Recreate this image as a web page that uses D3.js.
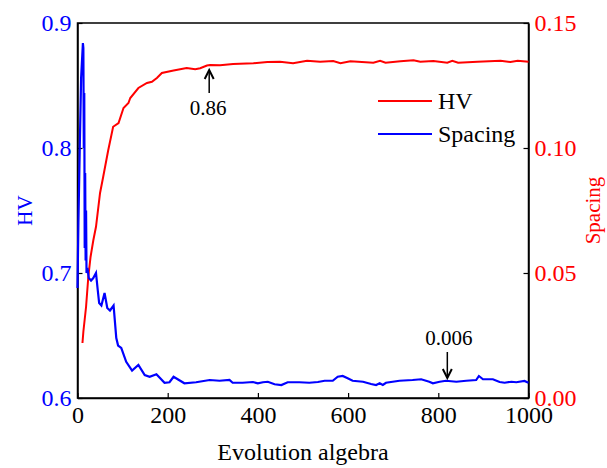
<!DOCTYPE html>
<html>
<head>
<meta charset="utf-8">
<script src="https://cdn.jsdelivr.net/npm/d3@7"></script>
<style>
  body { margin: 0; background: #fff; }
  svg, svg text { font-family: "Liberation Serif", "Times New Roman", Times, "DejaVu Serif", serif !important; }
</style>
</head>
<body>
<div class="chart"></div>
<script>
// HV curve (left axis)
const hvGen = [11, 13, 19, 24, 29, 35, 41, 50, 57, 68, 79, 91, 102, 113, 117, 135, 154, 165, 176, 187, 213, 242, 261, 272, 287, 294, 316, 345, 390, 421, 449, 478, 509, 538, 567, 583, 605, 656, 671, 683, 716, 745, 760, 789, 820, 831, 844, 887, 938, 960, 976, 1000];
const hvVal = [0.644, 0.653, 0.673, 0.697, 0.713, 0.726, 0.737, 0.764, 0.777, 0.798, 0.817, 0.820, 0.832, 0.836, 0.840, 0.848, 0.852, 0.853, 0.856, 0.860, 0.862, 0.864, 0.863, 0.8638, 0.866, 0.8664, 0.8662, 0.8672, 0.8678, 0.8688, 0.869, 0.8678, 0.8698, 0.869, 0.8696, 0.8678, 0.8694, 0.8682, 0.8698, 0.8682, 0.8694, 0.8702, 0.869, 0.8696, 0.8682, 0.8698, 0.8682, 0.869, 0.8698, 0.8688, 0.8698, 0.869];

// Spacing curve (right axis)
const spGen = [0, 2, 5, 8, 12, 13, 14, 15, 16, 17, 18, 19, 20, 22, 25, 30, 35, 41, 45, 48, 53, 60, 66, 72, 80, 86, 90, 97, 108, 121, 135, 149, 160, 175, 193, 204, 213, 237, 263, 293, 315, 337, 344, 366, 389, 400, 411, 422, 437, 452, 466, 492, 514, 533, 548, 566, 577, 588, 599, 610, 633, 651, 662, 670, 677, 684, 714, 743, 762, 780, 788, 803, 817, 840, 862, 884, 890, 899, 921, 936, 947, 962, 973, 991, 1000];
const spVal = [0.044, 0.07, 0.10, 0.128, 0.142, 0.14, 0.10, 0.122, 0.06, 0.09, 0.055, 0.075, 0.05, 0.052, 0.048, 0.047, 0.048, 0.050, 0.043, 0.038, 0.037, 0.042, 0.036, 0.035, 0.037, 0.024, 0.021, 0.020, 0.0145, 0.011, 0.0132, 0.0092, 0.0085, 0.0095, 0.0061, 0.0063, 0.0085, 0.0059, 0.0063, 0.0072, 0.0069, 0.0072, 0.0061, 0.0061, 0.0064, 0.0059, 0.0063, 0.0065, 0.0055, 0.0052, 0.0063, 0.0063, 0.0061, 0.0064, 0.0069, 0.0069, 0.0085, 0.0088, 0.0079, 0.0069, 0.0065, 0.0056, 0.0052, 0.0059, 0.0052, 0.0061, 0.0069, 0.0072, 0.0075, 0.0065, 0.0059, 0.0065, 0.0069, 0.0065, 0.0069, 0.0072, 0.0088, 0.0075, 0.0075, 0.0064, 0.0061, 0.0065, 0.0063, 0.0068, 0.0061];

const xTicks = [0, 200, 400, 600, 800, 1000];
const hvTicks = [0.6, 0.7, 0.8, 0.9];
const spTicks = [0, 0.05, 0.10, 0.15];

const outerWidth = 607, outerHeight = 468;
const margin = {top: 23, right: 78.5, bottom: 70, left: 77.5};
const width = outerWidth - margin.left - margin.right;
const height = outerHeight - margin.top - margin.bottom;

const svg = d3.select(".chart").append("svg")
  .attr("width", outerWidth)
  .attr("height", outerHeight);

const g = svg.append("g")
  .attr("transform", `translate(${margin.left},${margin.top})`);

const xScale = d3.scaleLinear().domain([0, 1000]).range([0, width]);
const yHV = d3.scaleLinear().domain([0.6, 0.9]).range([height, 0]);
const ySp = d3.scaleLinear().domain([0, 0.15]).range([height, 0]);

// frame
g.append("rect")
  .attr("width", width).attr("height", height)
  .attr("fill", "none").attr("stroke", "#000").attr("stroke-width", 1.5);

const xAxis = d3.axisBottom(xScale).tickValues(xTicks).tickSizeInner(-5).tickSizeOuter(0).tickPadding(8).tickFormat(d3.format("d"));
const yAxisL = d3.axisLeft(yHV).tickValues(hvTicks).tickSizeInner(-5).tickSizeOuter(0).tickPadding(6).tickFormat(d3.format(".1f"));
const yAxisR = d3.axisRight(ySp).tickValues(spTicks).tickSizeInner(-5).tickSizeOuter(0).tickPadding(6).tickFormat(d3.format(".2f"));

function styleAxis(sel, color) {
  sel.attr("font-family", null);
  sel.select(".domain").attr("stroke", "#000").attr("stroke-width", 1.5);
  sel.selectAll(".tick line").attr("stroke", "#000").attr("stroke-width", 1.2);
  sel.selectAll(".tick text")
    .attr("font-size", 24).attr("fill", color);
}

g.append("g").attr("transform", `translate(0,${height})`).call(xAxis).call(styleAxis, "#000");
g.append("g").call(yAxisL).call(styleAxis, "#0000ff");
g.append("g").attr("transform", `translate(${width},0)`).call(yAxisR).call(styleAxis, "#ff0000");

// lines
const hvData = hvGen.map((d, i) => [d, hvVal[i]]);
const spData = spGen.map((d, i) => [d, spVal[i]]);

g.append("path").datum(hvData)
  .attr("fill", "none").attr("stroke", "#ff0000").attr("stroke-width", 2)
  .attr("d", d3.line().x(d => xScale(d[0])).y(d => yHV(d[1])));

g.append("path").datum(spData)
  .attr("fill", "none").attr("stroke", "#0000ff").attr("stroke-width", 2.2)
  .attr("d", d3.line().x(d => xScale(d[0])).y(d => ySp(d[1])));

// axis titles
svg.append("text")
  .attr("x", margin.left + width / 2).attr("y", 460)
  .attr("text-anchor", "middle").attr("font-size", 24).attr("fill", "#000")
  .text("Evolution algebra");

svg.append("text")
  .attr("transform", `translate(32,${margin.top + height / 2}) rotate(-90)`)
  .attr("text-anchor", "middle").attr("font-size", 21).attr("fill", "#0000ff")
  .text("HV");

svg.append("text")
  .attr("transform", `translate(600,${margin.top + height / 2}) rotate(-90)`)
  .attr("text-anchor", "middle").attr("font-size", 21).attr("fill", "#ff0000")
  .text("Spacing");

// legend
const legend = svg.append("g").attr("transform", "translate(378,101)");
[["HV", "#ff0000"], ["Spacing", "#0000ff"]].forEach(([name, color], i) => {
  legend.append("line")
    .attr("x1", 0).attr("x2", 54).attr("y1", i * 33).attr("y2", i * 33)
    .attr("stroke", color).attr("stroke-width", 2);
  legend.append("text")
    .attr("x", 60).attr("y", i * 33 + 7.5)
    .attr("font-size", 24).attr("fill", "#000")
    .text(name);
});

// annotations
function arrow(x, yFrom, yTo) {
  const dir = yTo > yFrom ? 1 : -1;
  svg.append("line")
    .attr("x1", x).attr("x2", x).attr("y1", yFrom).attr("y2", yTo)
    .attr("stroke", "#000").attr("stroke-width", 1.5);
  svg.append("path")
    .attr("d", `M${x - 4.5},${yTo - dir * 9} L${x},${yTo} L${x + 4.5},${yTo - dir * 9}`)
    .attr("fill", "none").attr("stroke", "#000").attr("stroke-width", 2);
}

const annHV = {gen: 292, value: 0.86, label: "0.86"};
const annSp = {gen: 820, value: 0.006, label: "0.006"};

arrow(margin.left + xScale(annHV.gen), 93, 70);
svg.append("text")
  .attr("x", margin.left + xScale(annHV.gen) - 1).attr("y", 115)
  .attr("text-anchor", "middle").attr("font-size", 21).attr("fill", "#000")
  .text(annHV.label);

arrow(margin.left + xScale(annSp.gen), 352, 378);
svg.append("text")
  .attr("x", margin.left + xScale(annSp.gen) + 1.5).attr("y", 345)
  .attr("text-anchor", "middle").attr("font-size", 21).attr("fill", "#000")
  .text(annSp.label);
</script>
</body>
</html>
